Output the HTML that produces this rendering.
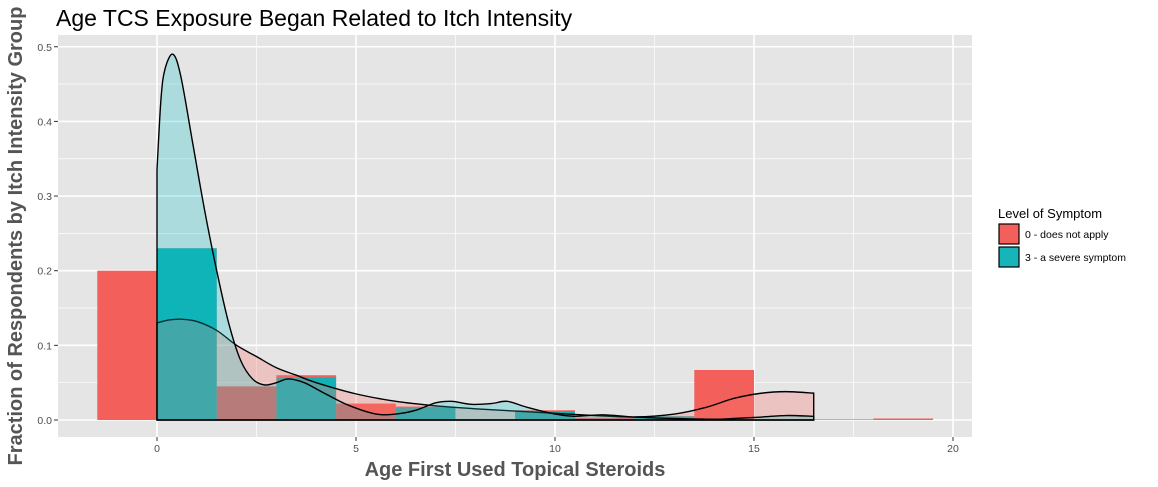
<!DOCTYPE html>
<html><head><meta charset="utf-8"><style>
body{margin:0;background:#fff;}
svg{display:block;font-family:"Liberation Sans",sans-serif;}
</style></head><body>
<svg width="1158" height="487" id="c">
<text x="56" y="26" font-size="23" fill="#000">Age TCS Exposure Began Related to Itch Intensity</text>
<rect x="58" y="35" width="914" height="402" fill="#e5e5e5"/>
<g id="grid"></g>
<g id="bars"></g>
<g id="dens"></g>
<g id="axes"></g>
<text x="515" y="476" font-size="20" font-weight="bold" fill="#555" text-anchor="middle">Age First Used Topical Steroids</text>
<text transform="translate(22,236) rotate(-90)" font-size="20" font-weight="bold" fill="#555" text-anchor="middle">Fraction of Respondents by Itch Intensity Group</text>
<g>
<text x="998" y="218" font-size="13">Level of Symptom</text>
<g><rect x="999" y="224" width="20" height="20" fill="#F35F5B" stroke="#000" stroke-width="1.2"/><text x="1025" y="238" font-size="10.5">0 - does not apply</text></g>
<g><rect x="999" y="247" width="20" height="20" fill="#17B5B9" stroke="#000" stroke-width="1.2"/><text x="1025" y="261" font-size="10.5">3 - a severe symptom</text></g>
</g>
</svg>
<script>
const binStarts=[-1.5,0,1.5,3,4.5,6,7.5,9,10.5,12,13.5,15,16.5,18];
const redBins=[0.2,0.23,0.045,0.06,0.022,0.018,0,0.013,0.003,0.005,0.067,0,0.0008,0.002];
const tealBins=[0,0.23,0,0.057,0,0.017,0,0.012,0,0.005,0,0,0,0];
const tealDensX=[0,0.1,0.2,0.4,0.6,0.9,1.2,1.5,1.8,2.1,2.4,2.7,3.0,3.3,3.7,4.2,4.8,5.5,6.0,6.5,7.0,7.4,7.9,8.4,8.8,9.3,10.0,10.5,11.2,12,13,14,14.5,15.2,15.8,16.5];
const tealDensY=[0.335,0.43,0.47,0.49,0.46,0.37,0.28,0.2,0.13,0.08,0.055,0.047,0.05,0.055,0.05,0.036,0.02,0.008,0.008,0.013,0.023,0.025,0.021,0.022,0.025,0.017,0.008,0.005,0.007,0.004,0.002,0.001,0.002,0.004,0.006,0.005];
const redDensX=[0,0.3,0.6,1.0,1.5,2.0,2.5,3.0,3.5,4.0,5.0,6.0,7.0,8.0,9.0,10.0,11.0,12.0,13.0,13.8,14.5,15.2,15.8,16.5];
const redDensY=[0.13,0.134,0.135,0.132,0.12,0.1,0.085,0.07,0.06,0.05,0.035,0.025,0.019,0.015,0.012,0.009,0.006,0.004,0.008,0.017,0.029,0.036,0.038,0.036];
const xTicks=[0,5,10,15,20];
const yTicks=[0,0.1,0.2,0.3,0.4,0.5];
const X=v=>157+v*39.8, Y=v=>420-v*746.5;
const NS='http://www.w3.org/2000/svg';
function mk(parent,tag,attrs){const e=document.createElementNS(NS,tag);for(const k in attrs)e.setAttribute(k,attrs[k]);document.getElementById(parent).appendChild(e);return e;}
for(let v=-2.5;v<=20;v+=2.5){if(v<-1.6)continue;const maj=xTicks.includes(v);
const l=mk('grid','line',{x1:X(v),x2:X(v),y1:35,y2:437,stroke:'#fff','stroke-width':maj?1.6:0.7});
}
for(let v=0;v<=0.55;v+=0.05){const maj=Math.abs(v*10-Math.round(v*10))<1e-6;
const l=mk('grid','line',{x1:58,x2:972,y1:Y(v),y2:Y(v),stroke:'#fff','stroke-width':maj?1.6:0.7});
}
binStarts.forEach((s,i)=>{if(redBins[i]>0){const r=mk('bars','rect',{x:X(s),y:Y(redBins[i]),width:X(s+1.5)-X(s),height:Y(0)-Y(redBins[i]),fill:'#F35F5B'});
}});
binStarts.forEach((s,i)=>{if(tealBins[i]>0){const r=mk('bars','rect',{x:X(s),y:Y(tealBins[i]),width:X(s+1.5)-X(s),height:Y(0)-Y(tealBins[i]),fill:'#00B8BD','fill-opacity':0.92});
}});
function curve(xs,ys){const p=xs.map((x,i)=>[X(x),Y(ys[i])]);let d='M'+p[0][0]+','+p[0][1];
for(let i=0;i<p.length-1;i++){const p0=p[i-1]||p[i],p1=p[i],p2=p[i+1],p3=p[i+2]||p2;
d+=` C${p1[0]+(p2[0]-p0[0])/6},${p1[1]+(p2[1]-p0[1])/6} ${p2[0]-(p3[0]-p1[0])/6},${p2[1]-(p3[1]-p1[1])/6} ${p2[0]},${p2[1]}`;}return d;}
function dens(xs,ys,col,op,name){const d='M'+X(xs[0])+','+Y(0)+' L'+curve(xs,ys).slice(1)+' L'+X(xs[xs.length-1])+','+Y(0)+' Z';
const e=mk('dens','path',{d:d,fill:col,'fill-opacity':op,stroke:'#000','stroke-width':1.4});
}
dens(redDensX,redDensY,'#F8766D',0.3,'density-red');
dens(tealDensX,tealDensY,'#00BFC4',0.25,'density-teal');
xTicks.forEach(v=>{const t=mk('axes','line',{x1:X(v),x2:X(v),y1:437,y2:441,stroke:'#333'});
const s=mk('axes','text',{x:X(v),y:452,'font-size':10.5,'text-anchor':'middle',fill:'#4d4d4d'});s.textContent=v;});
yTicks.forEach(v=>{const t=mk('axes','line',{x1:54,x2:58,y1:Y(v),y2:Y(v),stroke:'#333'});
const s=mk('axes','text',{x:52,y:Y(v)+4,'font-size':10.5,'text-anchor':'end',fill:'#4d4d4d'});s.textContent=v.toFixed(1);});
</script>
</body></html>
